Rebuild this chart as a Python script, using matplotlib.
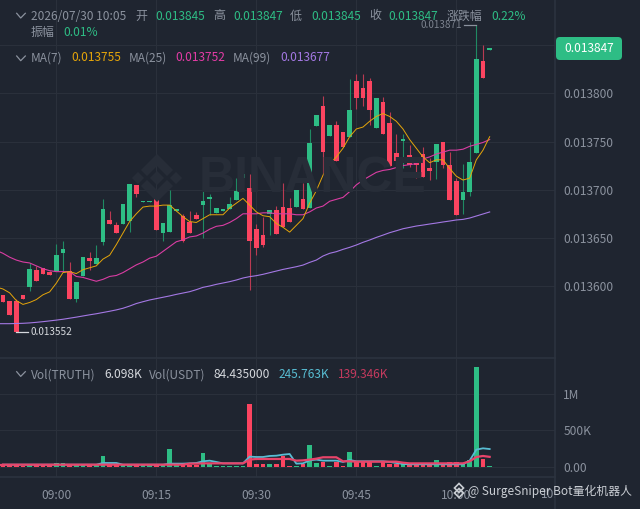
import numpy as np
import matplotlib
matplotlib.use('Agg')
import matplotlib.pyplot as plt
from matplotlib.lines import Line2D
from matplotlib.patches import FancyBboxPatch, Polygon
from matplotlib.transforms import Bbox

# prices are read in millionths, 13591 = 0.013591
open_ = [13591,13585,13585,13591,13599,13617,13619,13615,13616,13634,13616,13587,13610,13629,13623,13646,13669,13663,13664,13668,
         13705,13687,13687,13690,13655,13656,13678,13673,13667,13674,13684,13690,13676,13678,13680,13689,13712,13702,13659,13653,
         13675,13679,13682,13681,13682,13690,13681,13766,13787,13756,13767,13760,13755,13813,13806,13813,13764,13791,13769,13738,
         13751,13736,13728,13737,13722,13729,13750,13726,13709,13689,13698,13738,13833,13845]
high = [13591,13585,13587,13591,13624,13621,13619,13616,13644,13647,13625,13604,13630,13635,13643,13690,13678,13667,13685,13706,
        13705,13688,13688,13690,13665,13700,13680,13675,13678,13677,13705,13696,13681,13680,13692,13712,13716,13716,13664,13672,
        13679,13683,13707,13691,13700,13707,13763,13777,13797,13767,13771,13760,13815,13820,13820,13816,13795,13796,13781,13758,
        13758,13746,13734,13744,13733,13747,13750,13739,13712,13727,13750,13871,13850,13847]
low = [13583,13570,13552,13587,13595,13605,13613,13611,13616,13615,13587,13584,13610,13617,13623,13643,13664,13655,13664,13656,
       13692,13687,13687,13658,13647,13656,13678,13646,13655,13670,13650,13674,13676,13678,13680,13689,13712,13596,13632,13641,
       13653,13654,13661,13667,13682,13680,13681,13766,13715,13756,13730,13744,13755,13784,13787,13767,13764,13758,13725,13730,
       13722,13724,13712,13713,13710,13711,13722,13689,13674,13675,13693,13738,13816,13845]
close = [13583,13570,13552,13587,13618,13605,13613,13611,13632,13638,13587,13604,13630,13626,13629,13680,13664,13655,13685,13706,
         13696,13688,13688,13658,13665,13684,13680,13647,13655,13670,13688,13692,13681,13680,13685,13699,13716,13647,13639,13643,
         13679,13654,13661,13667,13700,13680,13748,13777,13739,13767,13730,13744,13783,13795,13795,13783,13795,13758,13725,13730,
         13753,13726,13726,13713,13719,13747,13726,13689,13674,13698,13729,13836,13816,13847]

ma7 = [13597,13593,13585,13581,13583,13586,13591,13594,13603,13614,13615,13613,13617,13619,13621,13628,13632,13643,13655,13667,
       13675,13682,13683,13683,13684,13684,13678,13672,13667,13666,13670,13674,13674,13674,13681,13686,13691,13684,13677,13673,
       13672,13665,13661,13656,13663,13670,13686,13699,13715,13727,13734,13743,13755,13763,13765,13771,13776,13779,13776,13771,
       13763,13752,13743,13734,13728,13731,13731,13722,13714,13710,13712,13731,13741,13755]
ma25 = [13634,13630,13627,13625,13624,13621,13618,13616,13615,13615,13615,13610,13609,13607,13605,13607,13610,13611,13614,13618,
        13622,13625,13629,13631,13636,13641,13646,13648,13651,13652,13655,13659,13662,13663,13666,13670,13675,13675,13675,13676,
        13676,13675,13675,13675,13674,13674,13677,13681,13683,13688,13690,13692,13698,13705,13710,13714,13718,13720,13721,13723,
        13725,13726,13727,13732,13734,13737,13739,13741,13741,13742,13745,13747,13749,13752]
ma99 = [13561.0,13561.0,13561.2,13561.4,13561.8,13562.4,13563.1,13563.9,13564.7,13565.6,13566.7,13567.8,13569.0,13570.2,13571.3,13572.6,13573.9,13575.3,13577.0,13579.3,
        13581.9,13583.8,13585.6,13587.0,13588.4,13589.8,13591.4,13592.8,13594.2,13596.3,13598.7,13600.1,13601.8,13603.2,13604.6,13606.3,13608.4,13609.8,13610.8,13612.2,
        13613.9,13615.6,13617.3,13618.7,13620.1,13621.8,13624.6,13627.0,13631.2,13634.0,13635.7,13638.1,13640.2,13642.6,13645.4,13647.8,13650.5,13652.9,13655.4,13657.4,
        13659.5,13660.9,13662.3,13663.3,13664.4,13665.4,13666.5,13667.5,13668.6,13669.2,13670.6,13672.7,13674.8,13676.9]
# the moving averages run on past the left edge
ma7_before, ma25_before, ma99_before = 13599, 13637, 13561

# volume in thousands
volume = [25,22,28,20,32,25,30,28,55,50,35,32,28,45,30,146,35,30,34,38,30,28,30,34,30,242,32,28,30,28,192,40,18,20,20,16,20,864,40,46,
          46,35,146,20,14,36,302,55,69,18,64,18,206,64,64,64,18,64,46,46,41,23,23,23,23,96,50,69,69,41,96,1371,114,15]
vol_ma_fast = [32,32,32,32,32,32,32,32,32,32,32,32,32,32,32,55,55,55,32,32,32,32,32,32,32,46,46,46,50,55,78,87,69,50,50,50,50,142,137,137,
               151,155,169,178,46,50,91,101,87,87,87,69,96,78,78,78,78,78,69,55,41,37,37,37,37,37,37,37,37,37,87,238,256,246]
vol_ma_slow = [32,32,32,32,32,32,32,32,32,32,32,32,32,32,32,32,32,32,32,32,32,32,32,32,32,32,32,32,46,46,50,50,50,50,50,50,50,101,110,110,
               110,110,110,110,87,91,101,114,133,133,133,78,78,73,73,73,73,73,73,73,59,50,50,50,50,50,50,50,50,50,78,137,151,139]

time_labels = ['09:00', '09:15', '09:30', '09:45', '10:00']
time_index = [8, 23, 38, 53, 68]
price_ticks = [13600, 13650, 13700, 13750, 13800]
vol_ticks = [0, 500, 1000]
vol_tick_labels = ['0.00', '500K', '1M']

BG = '#1f2530'
GRID = '#2a303b'
EDGE = '#2c333f'
GREEN = '#2ebd85'
RED = '#fb4460'
GREY = '#8b929e'
LIGHT = '#d5d8dd'
W, H = 640, 509

plt.rcParams['font.family'] = ['Noto Sans CJK SC', 'DejaVu Sans']
plt.rcParams['font.size'] = 8.6


def px(x, y):
    # picture pixels (origin top left) to figure fraction
    return x / W, 1 - y / H


def label(x, y, s, color=GREY, **kw):
    fig.text(*px(x, y), s, color=color, va='center', ha=kw.pop('ha', 'left'), **kw)


def pix_line(xs, ys, color, lw=1.0, zorder=5):
    fx = [v / W for v in xs]
    fy = [1 - v / H for v in ys]
    fig.add_artist(Line2D(fx, fy, color=color, lw=lw, zorder=zorder))


fig = plt.figure(figsize=(W / 100, H / 100), dpi=100, facecolor=BG)
ax = fig.add_axes([0, 1 - 358 / H, 555 / W, 358 / H], facecolor=BG)
ax_vol = fig.add_axes([0, 1 - 477 / H, 555 / W, 119 / H], facecolor=BG)

n = len(open_)
idx = np.arange(n)
o, h, l, c = map(np.array, (open_, high, low, close))
up = c >= o
colors = np.where(up, GREEN, RED)
wick_colors = np.where(up, '#1f8a63', '#b93a52')

# Watermark under the candles
fig.text(*px(199, 179), 'BINANCE', family='Liberation Sans', fontweight='bold', fontsize=36,
         color='#272d38', va='center', ha='left', zorder=0.5)
cx, cy = 157, 178
for dx, dy, pts in [
    (0, 0, [(-7, 0), (0, -7), (7, 0), (0, 7)]),
    (-19, 0, [(-6, 0), (0, -6), (6, 0), (0, 6)]),
    (19, 0, [(-6, 0), (0, -6), (6, 0), (0, 6)]),
    (0, -12, [(-16, 4), (0, -12), (16, 4), (10, 10), (0, 0), (-10, 10)]),
    (0, 12, [(-16, -4), (0, 12), (16, -4), (10, -10), (0, 0), (-10, -10)]),
]:
    poly = [px(cx + dx + a, cy + dy + b) for a, b in pts]
    fig.add_artist(Polygon(poly, closed=True, transform=fig.transFigure, facecolor='#272d38',
                           edgecolor='none', zorder=0.5))
ax.patch.set_alpha(0)
ax_vol.patch.set_alpha(0)

# Candles
ax.vlines(idx, l, h, colors=wick_colors, lw=0.8, zorder=3)
ax.bar(idx, np.maximum(np.abs(c - o), 1.5), bottom=np.minimum(o, c), width=0.72, color=colors, zorder=4)

before = np.array([-1])
x_ma = np.concatenate([before, idx])
ax.plot(x_ma, [ma99_before] + ma99, color='#a478e4', lw=0.8, zorder=5)
ax.plot(x_ma, [ma25_before] + ma25, color='#d93da3', lw=0.8, zorder=5)
ax.plot(x_ma, [ma7_before] + ma7, color='#e5a50a', lw=0.7, zorder=5)

ax.set_xlim(-0.445, 82.8)
ax.set_ylim(13525.4, 13896.8)
ax.set_yticks(price_ticks + [13850])
ax.set_yticklabels(['%.6f' % (p / 1e6) for p in price_ticks] + [''])
ax.set_xticks(time_index)
ax.tick_params(axis='x', length=0, labelbottom=False)
ax.tick_params(axis='y', length=0, labelleft=False, labelright=True, pad=6, colors=GREY, labelsize=8.6)
ax.grid(True, color=GRID, lw=0.8, zorder=0)
ax.set_axisbelow(True)

# Max and min marks of the visible range
imax, imin = int(np.argmax(h)), int(np.argmin(l))
ax.plot([imax - 1.8, imax], [h[imax], h[imax]], color=GREY, lw=0.9, zorder=6)
ax.text(imax - 2.2, h[imax], '%.6f' % (h[imax] / 1e6), color=GREY, fontsize=7.2, va='center', ha='right', alpha=0.85, zorder=6)
ax.plot([imin, imin + 1.8], [l[imin], l[imin]], color=LIGHT, lw=0.9, zorder=6)
ax.text(imin + 2.2, l[imin], '%.6f' % (l[imin] / 1e6), color=LIGHT, fontsize=7.2, va='center', ha='left', zorder=6)

# Volume panel
ax_vol.bar(idx, volume, width=0.72, color=colors, zorder=3)
ax_vol.plot(idx, vol_ma_fast, color='#58bdd3', lw=1.3, zorder=4)
ax_vol.plot(idx, vol_ma_slow, color='#e8446a', lw=1.6, zorder=5)
ax_vol.plot([-1, 0], [32, 32], color='#e8446a', lw=1.6, zorder=5)
ax_vol.set_xlim(-0.445, 82.8)
ax_vol.set_ylim(-137, 1493)
ax_vol.set_yticks(vol_ticks)
ax_vol.set_yticklabels(vol_tick_labels)
ax_vol.set_xticks(time_index)
ax_vol.set_xticklabels(time_labels)
ax_vol.tick_params(axis='x', length=0, pad=8.4, colors=GREY, labelsize=8.6)
ax_vol.tick_params(axis='y', length=0, labelleft=False, labelright=True, pad=6, colors=GREY, labelsize=8.6)
ax_vol.grid(True, color=GRID, lw=0.8, zorder=0)
ax_vol.set_axisbelow(True)

for a in (ax, ax_vol):
    for side in ('top', 'left'):
        a.spines[side].set_visible(False)
    for side in ('right', 'bottom'):
        a.spines[side].set_color(EDGE)
        a.spines[side].set_linewidth(1.2)

# Separator runs on to the bottom of the picture, 10:15 is cut by it
pix_line([555, 555], [477, 509], EDGE, lw=1.2)
cut = fig.text(*px(556.3, 494), '10:15', color=GREY, fontsize=8.6, ha='center', va='center')
cut.set_clip_box(Bbox([[0, 0], [555, H]]))
cut.set_clip_on(True)

# Header rows
for y0 in (13.3, 56, 371.7):
    pix_line([16.7, 20.7, 25.3], [y0, y0 + 4.7, y0], GREY, lw=0.9)

label(31, 16, '2026/07/30 10:05')
for x, s in [(135, '开'), (213, '高'), (290, '低'), (369, '收'), (447, '涨跌幅')]:
    label(x, 16, s)
for x, s in [(155, '0.013845'), (233, '0.013847'), (311, '0.013845'), (388, '0.013847'), (491, '0.22%')]:
    label(x, 16, s, color=GREEN)
label(31, 32, '振幅')
label(63, 32, '0.01%', color=GREEN)

label(31, 58, 'MA(7)')
label(71, 58, '0.013755', color='#e5a50a')
label(129, 58, 'MA(25)')
label(175, 58, '0.013752', color='#e43ca6')
label(233, 58, 'MA(99)')
label(280, 58, '0.013677', color='#a478e4')

label(31, 375, 'Vol(TRUTH)')
label(104, 375, '6.098K', color=LIGHT)
label(149, 375, 'Vol(USDT)')
label(214, 375, '84.435000', color=LIGHT)
label(279, 375, '245.763K', color='#58bdd3')
label(338, 375, '139.346K', color='#c43a5e')

# Last price badge
fig.add_artist(FancyBboxPatch((556, H - 60), 66, 23, boxstyle='round,pad=0,rounding_size=4',
                              transform=None, facecolor=GREEN, edgecolor='none', zorder=6))
label(589, 48.5, '0.013847', color='white', ha='center', zorder=7)

# Bottom right watermark
pts = [(0, -5), (4.5, -0.5), (0, 4), (-4.5, -0.5)]
for off in (-2.5, 2.5):
    poly = [px(459 + a, 491 + off + b) for a, b in pts]
    fig.add_artist(Polygon(poly, closed=True, transform=fig.transFigure, facecolor='none',
                           edgecolor='#c9cdd3', lw=1.2, zorder=8))
label(468, 491, '@ SurgeSniper Bot量化机器人', color='#c9cdd3', fontsize=8.55, zorder=8)

fig.savefig('out.png', dpi=100, facecolor=BG)
